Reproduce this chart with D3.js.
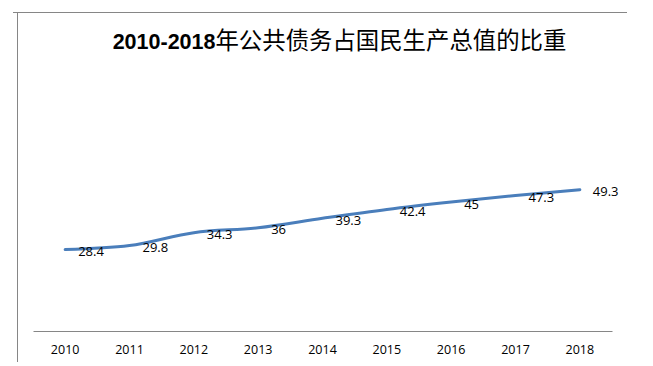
<!DOCTYPE html>
<html>
<head>
<meta charset="utf-8">
<script src="https://d3js.org/d3.v7.min.js"></script>
<style>
  body { margin: 0; background: #fff; }
  svg { display: block; }
</style>
</head>
<body>
<svg width="653" height="366"></svg>
<script>
// Chart data
const years = ["2010", "2011", "2012", "2013", "2014", "2015", "2016", "2017", "2018"];
const shares = [28.4, 29.8, 34.3, 36, 39.3, 42.4, 45, 47.3, 49.3];
const valueLabels = ["28.4", "29.8", "34.3", "36", "39.3", "42.4", "45", "47.3", "49.3"];
const titleYears = "2010-2018";
const titleText = "年公共债务占国民生产总值的比重";

const svg = d3.select("svg");

// Chart frame (only top and left edges are visible)
svg.append("line")
   .attr("x1", 13).attr("x2", 627).attr("y1", 12.5).attr("y2", 12.5)
   .attr("stroke", "#868686").attr("stroke-width", 1);
svg.append("line")
   .attr("x1", 17.5).attr("x2", 17.5).attr("y1", 12).attr("y2", 362)
   .attr("stroke", "#868686").attr("stroke-width", 1);

// Title: bold digits, CJK text
const title = svg.append("text")
   .attr("x", 339.5)
   .attr("y", 49)
   .attr("text-anchor", "middle")
   .attr("fill", "#000");
title.append("tspan")
   .attr("font-family", "'Liberation Sans', Arial, sans-serif")
   .attr("font-weight", "bold")
   .attr("font-size", 21.5)
   .text(titleYears);
title.append("tspan")
   .attr("font-family", "'Noto Sans CJK SC', sans-serif")
   .attr("font-size", 23.4)
   .text(titleText);

// Scales
const x = d3.scaleBand()
   .domain(years)
   .range([33, 612]);

const y = d3.scaleLinear()
   .domain([0, 60])
   .range([331, 159]);

// X axis: plain line with year labels, no ticks
const xAxis = svg.append("g")
   .attr("transform", "translate(0,331)")
   .call(d3.axisBottom(x).tickSize(0).tickPadding(14));
xAxis.select(".domain").attr("stroke", "#868686").attr("stroke-width", 1);
xAxis.selectAll("text")
   .attr("font-family", "'Open Sans', sans-serif")
   .attr("font-size", 12.5)
   .attr("fill", "#000");

// Line (Excel-style smoothing)
const line = d3.line()
   .x((d, i) => x(years[i]) + x.bandwidth() / 2)
   .y(d => y(d))
   .curve(d3.curveMonotoneX);

svg.append("path")
   .datum(shares)
   .attr("d", line)
   .attr("fill", "none")
   .attr("stroke", "#4a7ebb")
   .attr("stroke-width", 3)
   .attr("stroke-linecap", "round");

// Data labels to the right of each point
svg.selectAll(".lbl")
   .data(shares)
   .enter()
   .append("text")
   .attr("class", "lbl")
   .attr("x", (d, i) => x(years[i]) + x.bandwidth() / 2 + 13)
   .attr("y", d => y(d) + 2)
   .attr("dy", "0.35em")
   .attr("font-family", "'Open Sans', sans-serif")
   .attr("font-size", 13)
   .attr("fill", "#000")
   .text((d, i) => valueLabels[i]);
</script>
</body>
</html>
